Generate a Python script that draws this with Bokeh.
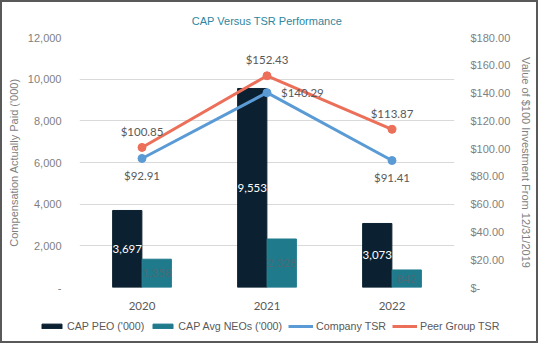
from bokeh.plotting import figure
from bokeh.layouts import column
from bokeh.models import (ColumnDataSource, Range1d, LinearAxis, FixedTicker,
                          CustomJSTickFormatter, Legend, LegendItem, FactorRange)
from bokeh.transform import dodge
from bokeh.core.properties import value
from bokeh.embed import file_html
from bokeh.resources import INLINE

# ---- data ----
years = ["2020", "2021", "2022"]
cap_peo = [3697, 9553, 3073]
cap_neo = [1358, 2328, 842]
company_tsr = [92.91, 140.29, 91.41]
peer_tsr = [100.85, 152.43, 113.87]
left_ticks = [0, 2000, 4000, 6000, 8000, 10000, 12000]
right_ticks = [0, 20, 40, 60, 80, 100, 120, 140, 160, 180]
series_names = ["CAP PEO ('000)", "CAP Avg NEOs ('000)", "Company TSR", "Peer Group TSR"]

# ---- styles ----
PEO_C = "#0B2131"
NEO_C = "#1F7A8C"
COMP_C = "#5B9BD5"
PEER_C = "#EC6F59"
GREY = "#7F7F7F"
DARK = "#595959"
SANS = "Liberation Sans"
LBL = "Lato"
W = 534

comp_dx = [0, 14, 0]
comp_dy = [17, 0, 17]
comp_align = ["center", "left", "center"]

src = ColumnDataSource(dict(
    year=years,
    peo=cap_peo,
    neo=cap_neo,
    peo_mid=[v / 2 for v in cap_peo],
    neo_mid=[v / 2 for v in cap_neo],
    peo_txt=[f"{v:,}" for v in cap_peo],
    neo_txt=[f"{v:,}" for v in cap_neo],
    comp=company_tsr,
    peer=peer_tsr,
    comp_txt=[f"${v:.2f}" for v in company_tsr],
    peer_txt=[f"${v:.2f}" for v in peer_tsr],
    comp_dx=comp_dx, comp_dy=comp_dy, comp_align=comp_align,
))

p = figure(x_range=FactorRange(*years), y_range=Range1d(0, 12000),
           width=W, height=310, output_backend="svg", toolbar_location=None,
           min_border_left=77, min_border_right=82, min_border_top=35,
           min_border_bottom=25)
p.frame_align = False
p.outline_line_color = None
p.extra_y_ranges = {"tsr": Range1d(0, 180)}

# title
p.title.text = "CAP Versus TSR Performance"
p.title.align = "center"
p.title.text_font = SANS
p.title.text_font_size = "11px"
p.title.text_font_style = "normal"
p.title.text_color = "#2E86A0"
p.title.offset = 3
p.title.standoff = 21

# bars
p.vbar(x=dodge("year", -0.118, range=p.x_range), top="peo", width=0.234,
       source=src, fill_color=PEO_C, line_color=PEO_C)
p.vbar(x=dodge("year", 0.118, range=p.x_range), top="neo", width=0.234,
       source=src, fill_color=NEO_C, line_color=NEO_C)

# lines
p.line(x="year", y="comp", source=src, y_range_name="tsr",
       line_color=COMP_C, line_width=3)
p.scatter(x="year", y="comp", source=src, y_range_name="tsr",
          size=8, fill_color=COMP_C, line_color=COMP_C)
p.line(x="year", y="peer", source=src, y_range_name="tsr",
       line_color=PEER_C, line_width=3)
p.scatter(x="year", y="peer", source=src, y_range_name="tsr",
          size=8, fill_color=PEER_C, line_color=PEER_C)

# data labels
p.text(x=dodge("year", -0.118, range=p.x_range), y="peo_mid", text="peo_txt", source=src,
       text_align="center", text_baseline="middle", text_color="white",
       text_font=value(LBL), text_font_size="11.5px")
p.text(x=dodge("year", 0.118, range=p.x_range), y="neo_mid", text="neo_txt", source=src,
       text_align="center", text_baseline="middle", text_color="#4a6a74",
       text_font=value(LBL), text_font_size="11.5px")
p.text(x="year", y="comp", text="comp_txt", source=src, y_range_name="tsr",
       x_offset="comp_dx", y_offset="comp_dy", text_align="comp_align",
       text_baseline="middle", text_color=DARK,
       text_font=value(LBL), text_font_size="11.5px")
p.text(x="year", y="peer", text="peer_txt", source=src, y_range_name="tsr",
       y_offset=-16, text_align="center", text_baseline="middle", text_color=DARK,
       text_font=value(LBL), text_font_size="11.5px")

# axes
yl = p.yaxis[0]
yl.ticker = FixedTicker(ticks=left_ticks)
yl.formatter = CustomJSTickFormatter(
    code="return tick == 0 ? '-' : tick.toLocaleString('en-US');")
yl.axis_label = "Compensation Actually Paid ('000)"

yr = LinearAxis(y_range_name="tsr", ticker=FixedTicker(ticks=right_ticks),
                formatter=CustomJSTickFormatter(
                    code="return tick == 0 ? '$-' : '$' + tick.toFixed(2);"),
                axis_label="Value of $100 Investment From 12/31/2019")
p.add_layout(yr, "right")

for ax in (yl, yr):
    ax.axis_line_color = None
    ax.major_tick_line_color = None
    ax.minor_tick_line_color = None
    ax.major_label_text_font = SANS
    ax.major_label_text_font_size = "11px"
    ax.major_label_text_color = GREY
    ax.axis_label_text_font = SANS
    ax.axis_label_text_font_size = "11px"
    ax.axis_label_text_font_style = "normal"
    ax.axis_label_text_color = GREY
yl.major_label_standoff = 12
yl.axis_label_standoff = 5
yr.major_label_standoff = 10
yr.axis_label_standoff = 7

xa = p.xaxis[0]
xa.axis_line_color = None
xa.major_tick_line_color = None
xa.minor_tick_line_color = None
xa.major_label_text_font = LBL
xa.major_label_text_font_size = "11.5px"
xa.major_label_text_color = DARK
xa.major_label_standoff = 8

p.xgrid.grid_line_color = None
p.ygrid.ticker = FixedTicker(ticks=left_ticks)
p.ygrid.grid_line_color = "#D9D9D9"

# ---- legend strip: same series, drawn outside its visible y window ----
q = figure(width=W, height=29, output_backend="svg", toolbar_location=None,
           x_range=p.x_range, y_range=Range1d(20000, 30000),
           min_border=0, min_border_left=0, min_border_right=0,
           min_border_top=0, min_border_bottom=0)
q.frame_align = False
q.axis.visible = False
q.grid.visible = False
q.outline_line_color = None
lr1 = q.vbar(x="year", top="peo", width=0.2, source=src,
             fill_color=PEO_C, line_color=PEO_C)
lr2 = q.vbar(x="year", top="neo", width=0.2, source=src,
             fill_color=NEO_C, line_color=NEO_C)
lr3a = q.line(x="year", y="comp", source=src, line_color=COMP_C, line_width=3)
lr3b = q.scatter(x="year", y="comp", source=src, size=7,
                 fill_color=COMP_C, line_color=COMP_C)
lr4a = q.line(x="year", y="peer", source=src, line_color=PEER_C, line_width=3)
lr4b = q.scatter(x="year", y="peer", source=src, size=7,
                 fill_color=PEER_C, line_color=PEER_C)

legend = Legend(items=[
    LegendItem(label=series_names[0], renderers=[lr1]),
    LegendItem(label=series_names[1], renderers=[lr2]),
    LegendItem(label=series_names[2], renderers=[lr3a, lr3b]),
    LegendItem(label=series_names[3], renderers=[lr4a, lr4b]),
], orientation="horizontal", location=(37, 9), glyph_width=25, glyph_height=6,
    label_height=6, label_standoff=3, spacing=6, padding=0, margin=0,
    border_line_alpha=0, background_fill_alpha=0,
    label_text_font=SANS, label_text_font_size="10.7px", label_text_color=DARK)
q.add_layout(legend, "center")

layout = column(p, q, spacing=0, styles={"border": "2px solid #595959"})

open("out.html", "w").write(file_html(layout, INLINE))
